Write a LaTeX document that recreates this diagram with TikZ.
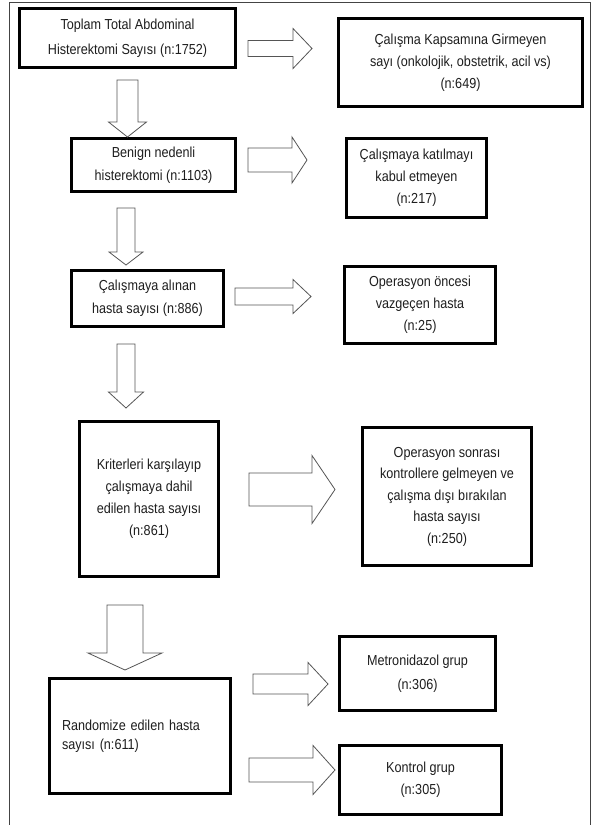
\documentclass[tikz,border=0pt]{standalone}
\usepackage{fontspec}
\setmainfont{Liberation Sans}[FakeStretch=0.87]
\definecolor{txt}{HTML}{1E1E1E}
\definecolor{arr}{HTML}{555555}
\definecolor{frm}{HTML}{444444}
\tikzset{
  box/.style={draw=black, line width=3pt, fill=white, align=center, inner sep=2pt,
    text=txt, font=\fontsize{14.5}{22}\selectfont},
  arrline/.style={draw=arr, line width=0.8pt, fill=white, line join=miter},
  pics/rarr/.style n args={4}{code={
    \path[arrline] (0,-#2) -- ({#1-#4},-#2) -- ({#1-#4},-#3) -- (#1,0) -- ({#1-#4},#3) -- ({#1-#4},#2) -- (0,#2) -- cycle;}},
  pics/darr/.style n args={4}{code={
    \path[arrline] (-#2,0) -- (-#2,{#1-#4}) -- (-#3,{#1-#4}) -- (0,#1) -- (#3,{#1-#4}) -- (#2,{#1-#4}) -- (#2,0) -- cycle;}},
}
\begin{document}
\begin{tikzpicture}[x=1pt, y=-1pt]
\useasboundingbox (0,0) rectangle (592,825);
\fill[white] (0,0) rectangle (592,825);
% outer frame
\draw[frm, line width=1pt] (9.5,825) -- (9.5,2) -- (590.5,2) -- (590.5,825);

% boxes
\node[box, minimum width=216pt, minimum height=59pt, font=\fontsize{14.5}{25}\selectfont] (b1) at (127.5,38)
  {Toplam Total Abdominal\\Histerektomi Sayısı (n:1752)};
\node[box, minimum width=244pt, minimum height=88pt] (b2) at (460.5,62.5)
  {Çalışma Kapsamına Girmeyen\\sayı (onkolojik, obstetrik, acil vs)\\(n:649)};
\node[box, minimum width=164pt, minimum height=53pt, font=\fontsize{14.5}{23}\selectfont] (b3) at (153.5,165)
  {Benign nedenli\\histerektomi (n:1103)};
\node[box, minimum width=140pt, minimum height=79pt] (b4) at (416.5,178)
  {Çalışmaya katılmayı\\kabul etmeyen\\(n:217)};
\node[box, minimum width=152pt, minimum height=56pt, font=\fontsize{14.5}{23}\selectfont] (b5) at (147.5,298.5)
  {Çalışmaya alınan\\hasta sayısı (n:886)};
\node[box, minimum width=151pt, minimum height=77pt] (b6) at (420,305)
  {Operasyon öncesi\\vazgeçen hasta\\(n:25)};
\node[box, minimum width=139pt, minimum height=155pt] (b7) at (149,499)
  {Kriterleri karşılayıp\\çalışmaya dahil\\edilen hasta sayısı\\(n:861)};
\node[box, minimum width=169pt, minimum height=138pt, font=\fontsize{14.5}{21.5}\selectfont] (b8) at (447,496.5)
  {Operasyon sonrası\\kontrollere gelmeyen ve\\çalışma dışı bırakılan\\hasta sayısı\\(n:250)};
\node[box, minimum width=181pt, minimum height=115pt, text width=156pt, inner xsep=12.5pt, align=left,
  font=\fontsize{14.5}{19}\selectfont] (b9) at (140,736)
  {Randomize edilen hasta\\sayısı (n:611)};
\node[box, minimum width=156pt, minimum height=74pt, font=\fontsize{14.5}{24}\selectfont] (b10) at (417.5,673.5)
  {Metronidazol grup\\(n:306)};
\node[box, minimum width=162pt, minimum height=69pt] (b11) at (420.5,780)
  {Kontrol grup\\(n:305)};

% block arrows (right)
\pic at (248,48.5) {rarr={64}{8}{20}{19}};
\pic at (248,160) {rarr={59}{12}{23}{15}};
\pic at (235,296.5) {rarr={76}{8.5}{17}{18}};
\pic at (249,489.5) {rarr={86}{16.5}{34}{23}};
\pic at (253,684) {rarr={75}{10}{21.5}{20}};
\pic at (249,770) {rarr={86}{12}{24.5}{22}};
% block arrows (down)
\pic at (127.5,80) {darr={57}{10.5}{19}{15}};
\pic at (126,208) {darr={57}{9}{17}{13}};
\pic at (126,344) {darr={64}{9}{17.5}{16}};
\pic at (125,605) {darr={65}{18}{37}{17}};
\end{tikzpicture}
\end{document}
